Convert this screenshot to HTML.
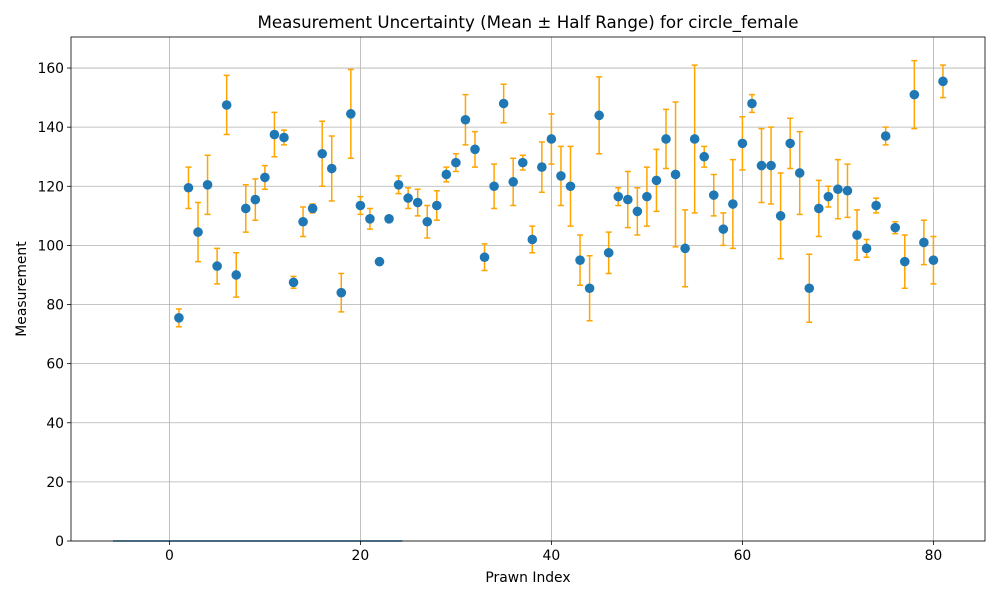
<!DOCTYPE html>
<html><head><meta charset="utf-8"><style>
body{margin:0;background:#fff;}
svg{display:block;font-family:"DejaVu Sans","Liberation Sans",sans-serif;}
</style></head><body>
<svg id="chart" width="1000" height="600" viewBox="0 0 1000 600">
<rect width="1000" height="600" fill="#fff"/>
<text x="528" y="28" text-anchor="middle" font-size="16.7" fill="#000">Measurement Uncertainty (Mean ± Half Range) for circle_female</text>
<g id="grid"></g>
<g id="marks"></g>
<g id="axes"></g>
<text x="528" y="582" text-anchor="middle" font-size="13.9">Prawn Index</text>
<text transform="translate(26,289) rotate(-90)" text-anchor="middle" font-size="13.9">Measurement</text>
</svg>
<script>
const means = [75.5,119.5,104.5,120.5,93,147.5,90,112.5,115.5,123,137.5,136.5,87.5,108,112.5,131,126,84,144.5,113.5,109,94.5,109,120.5,116,114.5,108,113.5,124,128,142.5,132.5,96,120,148,121.5,128,102,126.5,136,123.5,120,95,85.5,144,97.5,116.5,115.5,111.5,116.5,122,136,124,99,136,130,117,105.5,114,134.5,148,127,127,110,134.5,124.5,85.5,112.5,116.5,119,118.5,103.5,99,113.5,137,106,94.5,151,101,95,155.5];
const halfRanges = [3,7,10,10,6,10,7.5,8,7,4,7.5,2.5,2,5,1.5,11,11,6.5,15,3,3.5,1,0.3,3,3.5,4.5,5.5,5,2.5,3,8.5,6,4.5,7.5,6.5,8,2.5,4.5,8.5,8.5,10,13.5,8.5,11,13,7,3,9.5,8,10,10.5,10,24.5,13,25,3.5,7,5.5,15,9,3,12.5,13,14.5,8.5,14,11.5,9.5,3.5,10,9,8.5,3,2.5,3,2,9,11.5,7.5,8,5.5];
const xTicks = [0,20,40,60,80];
const yTicks = [0,20,40,60,80,100,120,140,160];
const baseLineX = [-5.9,24.4];
const L=71,R=985,T=37,B=541;
const xMin=-10.3,xMax=85.4,yMin=0,yMax=170.5;
const xs=v=>L+(v-xMin)/(xMax-xMin)*(R-L);
const ys=v=>B-(v-yMin)/(yMax-yMin)*(B-T);
const NS="http://www.w3.org/2000/svg";
function mk(tag,attrs,parent){const e=document.createElementNS(NS,tag);for(const k in attrs)e.setAttribute(k,attrs[k]);parent.appendChild(e);return e;}
const grid=document.getElementById('grid'),marks=document.getElementById('marks'),axes=document.getElementById('axes');
xTicks.forEach(t=>{
  const g=mk('line',{x1:xs(t),x2:xs(t),y1:T,y2:B,stroke:'#b0b0b0','stroke-width':0.8},grid);
  
  
  const tk=mk('line',{x1:xs(t),x2:xs(t),y1:B,y2:B+4,stroke:'#000','stroke-width':0.8},axes);
  
  
  const tx=mk('text',{x:xs(t),y:B+19,'text-anchor':'middle','font-size':13.9},axes);
  tx.textContent=t;
  
  
});
yTicks.forEach(t=>{
  const g=mk('line',{x1:L,x2:R,y1:ys(t),y2:ys(t),stroke:'#b0b0b0','stroke-width':0.8},grid);
  
  
  const tk=mk('line',{x1:L-4,x2:L,y1:ys(t),y2:ys(t),stroke:'#000','stroke-width':0.8},axes);
  
  
  const tx=mk('text',{x:L-7,y:ys(t)+5,'text-anchor':'end','font-size':13.9},axes);
  tx.textContent=t;
  
  
});
const bl=mk('line',{x1:xs(baseLineX[0]),x2:xs(baseLineX[1]),y1:ys(0),y2:ys(0),stroke:'#1f77b4','stroke-width':1.5},marks);


means.forEach((m,i)=>{
  const x=xs(i+1),y1=ys(m-halfRanges[i]),y2=ys(m+halfRanges[i]);
  const eb=mk('path',{d:`M${x},${y1}V${y2}M${x-3},${y1}h6M${x-3},${y2}h6`,stroke:'#ffa500','stroke-width':1.5,fill:'none'},marks);
  
  
});
means.forEach((m,i)=>{
  const c=mk('circle',{cx:xs(i+1),cy:ys(m),r:4.8,fill:'#1f77b4'},marks);
  
  
});
const fr=mk('rect',{x:L,y:T,width:R-L,height:B-T,fill:'none',stroke:'#000','stroke-width':0.8},axes);


</script>
</body></html>
